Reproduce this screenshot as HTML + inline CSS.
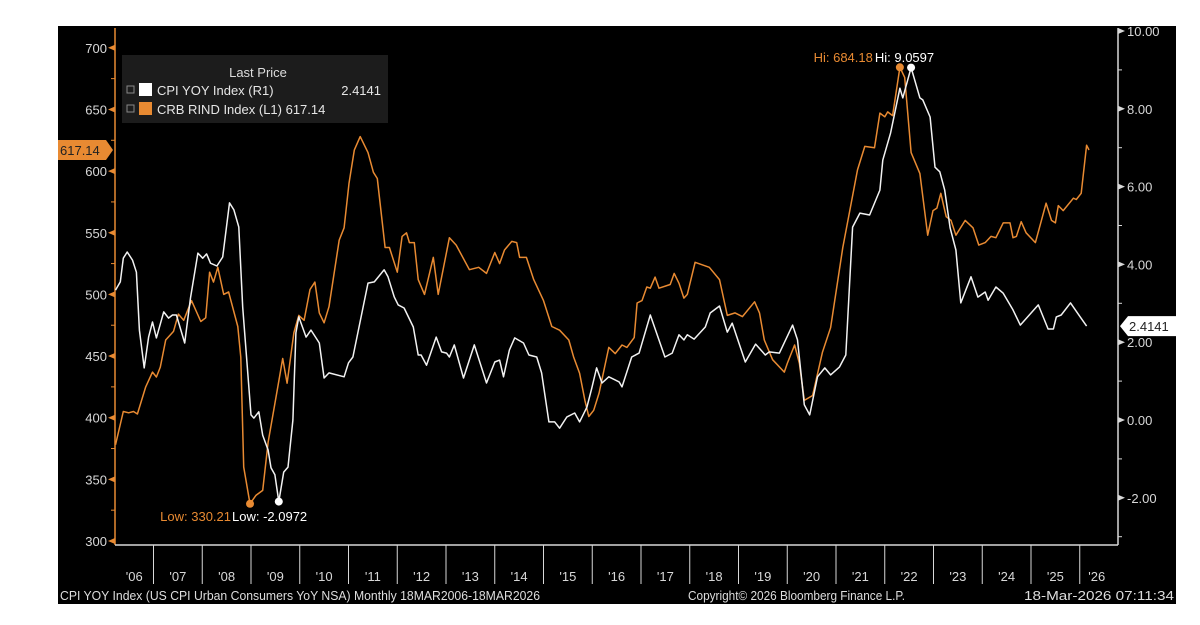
<!DOCTYPE html>
<html>
<head>
<meta charset="utf-8">
<style>
html,body{margin:0;padding:0;background:#fff;}
svg{display:block;}
text{font-family:"Liberation Sans","DejaVu Sans",sans-serif;}
</style>
</head>
<body>
<svg id="chart" width="1200" height="625" viewBox="0 0 1200 625" xmlns="http://www.w3.org/2000/svg">
  <rect x="58" y="26" width="1118" height="578" fill="#000"/>
  <g id="axes"></g>
  <g id="series"></g>
  <g>
    <rect x="122" y="55" width="266" height="68" fill="#1c1c1c"/>
    <text x="258" y="77" fill="#ddd" font-size="13" text-anchor="middle">Last Price</text>
    <rect x="127" y="86" width="7" height="7" fill="none" stroke="#888" stroke-width="1"/>
    <rect x="139" y="83" width="13" height="13" fill="#fff"/>
    <text x="157" y="95" fill="#e6e6e6" font-size="13">CPI YOY Index  (R1)</text>
    <text x="381" y="95" fill="#e6e6e6" font-size="13" text-anchor="end">2.4141</text>
    <rect x="127" y="105" width="7" height="7" fill="none" stroke="#888" stroke-width="1"/>
    <rect x="139" y="102" width="13" height="13" fill="#e88a32"/>
    <text x="157" y="114" fill="#e6e6e6" font-size="13">CRB RIND Index  (L1) 617.14</text>
  </g>
  <g>
    <text x="60" y="600" fill="#ddd" font-size="12.5" textLength="480" lengthAdjust="spacingAndGlyphs">CPI YOY Index (US CPI Urban Consumers YoY NSA) Monthly 18MAR2006-18MAR2026</text>
    <text x="688" y="600" fill="#ddd" font-size="12.5" textLength="217" lengthAdjust="spacingAndGlyphs">Copyright© 2026 Bloomberg Finance L.P.</text>
    <text x="1174" y="600" fill="#ddd" font-size="12.5" text-anchor="end" textLength="150" lengthAdjust="spacingAndGlyphs">18-Mar-2026 07:11:34</text>
  </g>
</svg>
<script>
const crbDates = [2006.22,2006.38,2006.49,2006.59,2006.67,2006.84,2006.98,2007.06,2007.14,2007.25,2007.41,2007.51,2007.62,2007.78,2007.97,2008.07,2008.15,2008.23,2008.32,2008.44,2008.54,2008.73,2008.79,2008.85,2008.98,2009.10,2009.24,2009.35,2009.55,2009.65,2009.74,2009.88,2009.98,2010.09,2010.21,2010.31,2010.40,2010.50,2010.60,2010.81,2010.91,2011.01,2011.12,2011.24,2011.40,2011.51,2011.59,2011.75,2011.84,2012.00,2012.10,2012.19,2012.25,2012.35,2012.43,2012.56,2012.74,2012.84,2013.07,2013.21,2013.48,2013.67,2013.83,2014.00,2014.10,2014.20,2014.35,2014.45,2014.51,2014.65,2014.80,2015.00,2015.17,2015.33,2015.52,2015.62,2015.74,2015.85,2015.93,2016.03,2016.14,2016.34,2016.47,2016.61,2016.71,2016.86,2016.92,2017.02,2017.12,2017.19,2017.29,2017.37,2017.60,2017.68,2017.78,2017.88,2017.95,2018.11,2018.40,2018.61,2018.77,2018.93,2019.08,2019.33,2019.43,2019.53,2019.70,2019.94,2020.00,2020.15,2020.25,2020.35,2020.52,2020.72,2020.89,2021.14,2021.44,2021.59,2021.79,2021.90,2022.00,2022.06,2022.16,2022.31,2022.41,2022.54,2022.72,2022.88,2022.99,2023.07,2023.15,2023.26,2023.36,2023.46,2023.65,2023.81,2023.93,2024.06,2024.18,2024.28,2024.43,2024.57,2024.63,2024.70,2024.80,2024.90,2025.09,2025.31,2025.42,2025.50,2025.56,2025.66,2025.87,2025.93,2026.03,2026.14,2026.19];
const crbValues = [378,405,404,405,403,425,437,433,441,463,470,484,479,495,478,481,518,510,522,500,502,474,449,360,330.21,337,341,380,425,448,428,469,483,479,504,510,485,477,490,544,554,590,617,628,615,599,594,538,538,518,547,550,542,542,512,500,530,500,546,540,520,522,517,534,525,536,543,542,530,530,512,495,474,471,463,449,436,414,401,406,420,457,452,459,457,465,493,495,506,505,514,505,508,517,509,497,500,526,522,512,483,485,482,494,485,463,447,437,444,459,444,414,418,453,473,538,601,620,619,647,644,648,645,684.18,676,615,598,548,568,570,582,563,560,548,560,554,540,542,547,546,558,558,546,547,559,550,542,574,560,558,572,568,578,577,582,621,617.14];
const cpiDates = [2006.22,2006.32,2006.38,2006.46,2006.57,2006.65,2006.71,2006.81,2006.90,2006.98,2007.06,2007.21,2007.31,2007.39,2007.47,2007.64,2007.76,2007.91,2008.01,2008.09,2008.17,2008.30,2008.42,2008.56,2008.65,2008.75,2008.83,2009.00,2009.06,2009.16,2009.24,2009.35,2009.41,2009.49,2009.57,2009.67,2009.76,2009.86,2009.92,2009.98,2010.13,2010.23,2010.40,2010.50,2010.60,2010.91,2011.00,2011.09,2011.40,2011.53,2011.73,2011.81,2011.94,2012.02,2012.14,2012.33,2012.43,2012.49,2012.60,2012.80,2012.91,2013.01,2013.07,2013.17,2013.36,2013.58,2013.83,2014.00,2014.10,2014.18,2014.30,2014.41,2014.59,2014.70,2014.86,2014.96,2015.11,2015.23,2015.33,2015.48,2015.64,2015.74,2015.89,2015.99,2016.09,2016.20,2016.34,2016.55,2016.61,2016.81,2016.96,2017.19,2017.49,2017.64,2017.78,2017.88,2017.95,2018.09,2018.32,2018.42,2018.61,2018.77,2018.87,2019.14,2019.35,2019.55,2019.63,2019.84,2020.11,2020.21,2020.35,2020.46,2020.62,2020.77,2020.89,2021.07,2021.20,2021.34,2021.49,2021.69,2021.90,2021.96,2022.12,2022.31,2022.37,2022.54,2022.72,2022.78,2022.93,2023.03,2023.13,2023.23,2023.34,2023.46,2023.56,2023.77,2023.91,2024.06,2024.12,2024.28,2024.43,2024.63,2024.78,2025.15,2025.35,2025.46,2025.52,2025.62,2025.81,2026.01,2026.14];
const cpiValues = [3.34,3.55,4.16,4.32,4.11,3.80,2.31,1.34,2.13,2.52,2.11,2.78,2.62,2.70,2.70,1.98,3.14,4.29,4.16,4.27,4.03,3.96,4.19,5.58,5.40,4.96,2.90,0.13,0.05,0.21,-0.39,-0.77,-1.23,-1.41,-2.0972,-1.34,-1.21,0.00,2.24,2.65,2.13,2.31,1.98,1.08,1.21,1.11,1.47,1.62,3.52,3.55,3.86,3.68,3.16,2.96,2.88,2.39,1.67,1.67,1.41,2.13,1.75,1.72,1.62,1.93,1.08,1.93,0.95,1.49,1.54,1.11,1.80,2.11,1.98,1.67,1.62,1.21,-0.05,-0.05,-0.21,0.08,0.18,-0.05,0.33,0.82,1.34,0.95,1.11,0.98,0.85,1.62,1.72,2.70,1.62,1.72,2.19,2.06,2.19,2.08,2.39,2.75,2.93,2.26,2.49,1.49,1.95,1.67,1.75,1.72,2.44,2.06,0.39,0.13,1.11,1.34,1.16,1.36,1.67,4.96,5.32,5.27,5.91,6.68,7.38,8.53,8.28,9.0597,8.28,8.23,7.79,6.50,6.38,5.91,4.94,4.37,3.01,3.68,3.16,3.29,3.08,3.42,3.26,2.83,2.44,2.96,2.34,2.34,2.65,2.70,3.01,2.65,2.4141];
const yearLabels = ["'06","'07","'08","'09","'10","'11","'12","'13","'14","'15","'16","'17","'18","'19","'20","'21","'22","'23","'24","'25","'26"];
const leftTicks = [300,350,400,450,500,550,600,650,700];
const rightTicks = [-2,0,2,4,6,8,10];
const rightTickLabels = ["-2.00","0.00","2.00","4.00","6.00","8.00","10.00"];

const NS = "http://www.w3.org/2000/svg";
const X0 = 115, X1 = 1118, YB = 545, YT = 28;
const ORANGE = "#e88a32", WHITE = "#f2f2f2", GREY = "#d8d8d8";
function xScale(t){ return 153.5 + (t - 2007) * 48.75; }
function yLeft(v){ return 541 - (v - 300) * 1.233; }
function yRight(v){ return 420 - v * 38.9; }
function mk(tag, attrs, parent){
  const e = document.createElementNS(NS, tag);
  for (const k in attrs) e.setAttribute(k, attrs[k]);
  parent.appendChild(e);
  return e;
}
const axes = document.getElementById('axes');
const series = document.getElementById('series');

// frame lines
let l = mk('line', {x1:X0, y1:YT, x2:X0, y2:YB, stroke:ORANGE, 'stroke-width':1.5}, axes);


l = mk('line', {x1:X1, y1:YT, x2:X1, y2:YB, stroke:GREY, 'stroke-width':1.5}, axes);


l = mk('line', {x1:X0, y1:YB, x2:X1, y2:YB, stroke:GREY, 'stroke-width':1.5}, axes);



// left ticks
leftTicks.forEach(function(v, i){
  const y = yLeft(v);
  const p = mk('path', {d:'M'+X0+' '+(y-3)+' L'+(X0-7)+' '+y+' L'+X0+' '+(y+3)+' Z', fill:ORANGE}, axes);
  
  
  const t = mk('text', {x:X0-8, y:y+5, fill:GREY, 'font-size':13, 'text-anchor':'end'}, axes);
  t.textContent = String(v);
  
  
  if (i < leftTicks.length - 1) {
    const ym = yLeft(v + 25);
    const m = mk('line', {x1:X0, y1:ym, x2:X0-4, y2:ym, stroke:ORANGE, 'stroke-width':1}, axes);
    
    
  }
});
// right ticks
rightTicks.forEach(function(v, i){
  const y = yRight(v);
  const p = mk('path', {d:'M'+X1+' '+(y-3)+' L'+(X1+7)+' '+y+' L'+X1+' '+(y+3)+' Z', fill:GREY}, axes);
  
  
  const t = mk('text', {x:X1+9, y:y+5, fill:GREY, 'font-size':13}, axes);
  t.textContent = rightTickLabels[i];
  
  
  const ym = yRight(v - 1);
  if (ym < YB) {
    const m = mk('line', {x1:X1, y1:ym, x2:X1+4, y2:ym, stroke:GREY, 'stroke-width':1}, axes);
    
    
  }
});
// year separators and labels
yearLabels.forEach(function(lab, i){
  const yr = 2006 + i;
  if (i > 0) {
    const xs = xScale(yr);
    const s = mk('line', {x1:xs, y1:YB, x2:xs, y2:584, stroke:GREY, 'stroke-width':1}, axes);
    
    
  }
  let xc = xScale(yr + 0.5);
  if (i === 0) xc = (X0 + xScale(2007)) / 2;
  if (i === yearLabels.length - 1) xc = xScale(2026) + 17;
  const t = mk('text', {x:xc, y:581, fill:GREY, 'font-size':13, 'text-anchor':'middle'}, axes);
  t.textContent = lab;
  
  
});

function linePath(dates, vals, ys){
  let d = '';
  for (let i = 0; i < dates.length; i++) d += (i ? 'L' : 'M') + xScale(dates[i]).toFixed(1) + ' ' + ys(vals[i]).toFixed(1);
  return d;
}
const crbLine = mk('path', {d:linePath(crbDates, crbValues, yLeft), fill:'none', stroke:ORANGE, 'stroke-width':1.5, 'stroke-linejoin':'round'}, series);


const cpiLine = mk('path', {d:linePath(cpiDates, cpiValues, yRight), fill:'none', stroke:WHITE, 'stroke-width':1.5, 'stroke-linejoin':'round'}, series);



// extremes
function argExt(arr, max){ let k = 0; for (let i = 1; i < arr.length; i++) if (max ? arr[i] > arr[k] : arr[i] < arr[k]) k = i; return k; }
const crbHi = argExt(crbValues, true), crbLo = argExt(crbValues, false);
const cpiHi = argExt(cpiValues, true), cpiLo = argExt(cpiValues, false);
function dot(x, y, c, name){
  const e = mk('circle', {cx:x, cy:y, r:4, fill:c}, series);
  
  
}
function lab(x, y, txt, c, anchor, name){
  const e = mk('text', {x:x, y:y, fill:c, 'font-size':13, 'text-anchor':anchor}, series);
  e.textContent = txt;
  
  
}
const chx = xScale(crbDates[crbHi]), chy = yLeft(crbValues[crbHi]);
const phx = xScale(cpiDates[cpiHi]), phy = yRight(cpiValues[cpiHi]);
dot(chx, chy, ORANGE, 'crb-high-marker');
dot(phx, phy, '#fff', 'cpi-high-marker');
lab(chx - 27, 62, 'Hi: ' + crbValues[crbHi].toFixed(2), ORANGE, 'end', 'crb-high-label');
lab(chx - 25, 62, 'Hi: ' + cpiValues[cpiHi].toFixed(4), '#fff', 'start', 'cpi-high-label');
const clx = xScale(crbDates[crbLo]), cly = yLeft(crbValues[crbLo]);
const plx = xScale(cpiDates[cpiLo]), ply = yRight(cpiValues[cpiLo]);
dot(clx, cly, ORANGE, 'crb-low-marker');
dot(plx, ply, '#fff', 'cpi-low-marker');
lab(231, 521, 'Low: ' + crbValues[crbLo].toFixed(2), ORANGE, 'end', 'crb-low-label');
lab(232, 521, 'Low: ' + cpiValues[cpiLo].toFixed(4), '#fff', 'start', 'cpi-low-label');

// last value tags
const lyL = yLeft(crbValues[crbValues.length - 1]);
const tagL = mk('path', {d:'M58 '+(lyL-10)+' L106 '+(lyL-10)+' L113 '+lyL+' L106 '+(lyL+10)+' L58 '+(lyL+10)+' Z', fill:ORANGE}, axes);


const tL = mk('text', {x:60, y:lyL+5, fill:'#222', 'font-size':13}, axes);
tL.textContent = crbValues[crbValues.length - 1].toFixed(2);


const lyR = yRight(cpiValues[cpiValues.length - 1]);
const tagR = mk('path', {d:'M1120 '+lyR+' L1128 '+(lyR-10)+' L1176 '+(lyR-10)+' L1176 '+(lyR+10)+' L1128 '+(lyR+10)+' Z', fill:'#fff'}, axes);


const tR = mk('text', {x:1129, y:lyR+5, fill:'#222', 'font-size':13}, axes);
tR.textContent = cpiValues[cpiValues.length - 1].toFixed(4);


</script>
</body>
</html>
